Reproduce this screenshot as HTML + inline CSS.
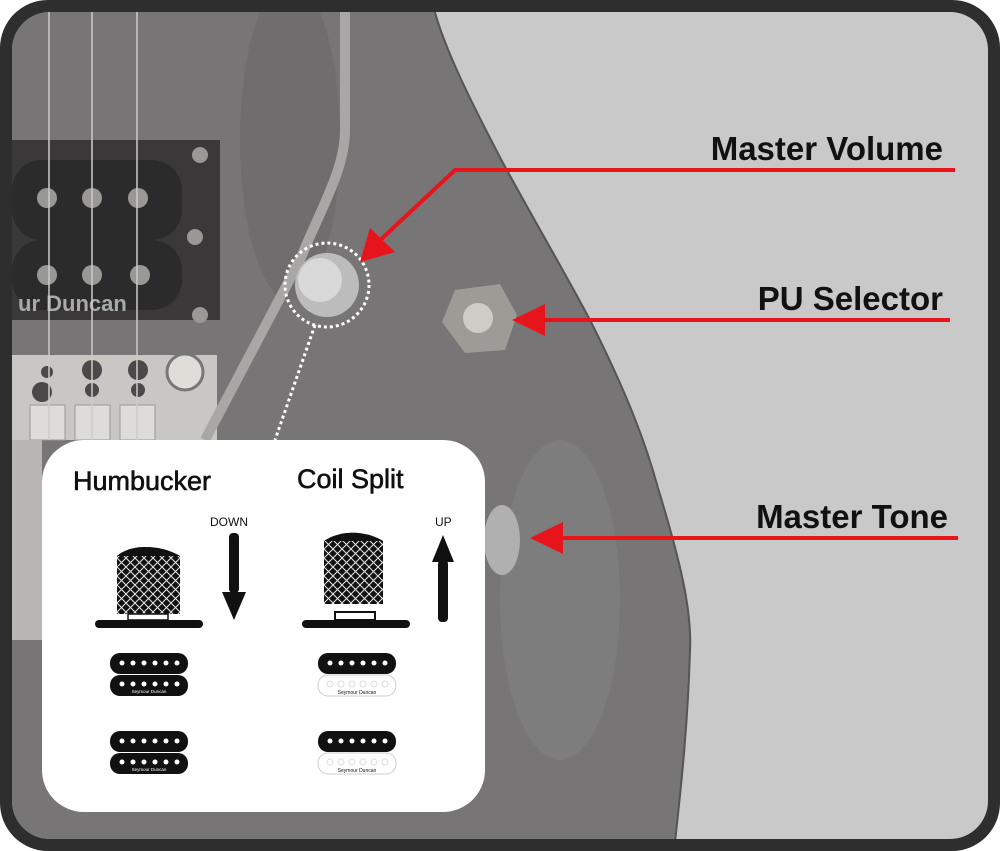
<!DOCTYPE html>
<html><head><meta charset="utf-8"><style>
html,body{margin:0;padding:0;background:#fff;}
svg{display:block;}
text{font-family:"Liberation Sans",sans-serif;}
</style></head><body>
<svg width="1000" height="851" viewBox="0 0 1000 851" xmlns="http://www.w3.org/2000/svg">
<defs>
<clipPath id="c"><rect x="12" y="12" width="976" height="827" rx="38"/></clipPath>
<pattern id="hatch" width="9" height="9" patternUnits="userSpaceOnUse">
<rect width="9" height="9" fill="#111"/>
<path d="M0 0L9 9M9 0L0 9" stroke="#e8e8e8" stroke-width="1"/>
</pattern>
</defs>
<rect x="0" y="0" width="1000" height="851" rx="48" fill="#2e2e2e"/>
<g clip-path="url(#c)">
<rect x="0" y="0" width="1000" height="851" fill="#c9c9c9"/>
<path d="M0 0 L432 0 C440 40 470 100 503 163 C545 240 575 290 593 326 C625 390 645 440 658 488 C680 560 692 610 690 650 C688 720 682 780 674 851 L0 851 Z" fill="#777575"/>
<ellipse cx="290" cy="140" rx="50" ry="160" fill="#6a6868" opacity="0.6"/>
<ellipse cx="560" cy="600" rx="60" ry="160" fill="#848282" opacity="0.6"/>
<path d="M432 0 C440 40 470 100 503 163 C545 240 575 290 593 326 C625 390 645 440 658 488 C680 560 692 610 690 650 C688 720 682 780 674 851" fill="none" stroke="#555" stroke-width="2"/>
<!-- pickup -->
<rect x="12" y="140" width="208" height="180" fill="#3a3838"/>
<rect x="12" y="160" width="170" height="80" rx="30" fill="#2c2b2b"/>
<rect x="12" y="240" width="170" height="70" rx="30" fill="#2c2b2b"/>
<g fill="#9a9894"><circle cx="47" cy="198" r="10"/><circle cx="92" cy="198" r="10"/><circle cx="138" cy="198" r="10"/><circle cx="47" cy="275" r="10"/><circle cx="92" cy="275" r="10"/><circle cx="140" cy="275" r="10"/><circle cx="200" cy="155" r="8"/><circle cx="195" cy="237" r="8"/><circle cx="200" cy="315" r="8"/></g>
<text x="18" y="311" font-family="Liberation Serif" font-weight="bold" font-size="22" fill="#aaa">ur Duncan</text>
<!-- bridge -->
<rect x="12" y="355" width="205" height="85" fill="#c9c7c3"/>
<g fill="#4a4848"><circle cx="47" cy="372" r="6"/><circle cx="92" cy="370" r="10"/><circle cx="138" cy="370" r="10"/><circle cx="42" cy="392" r="10"/><circle cx="92" cy="390" r="7"/><circle cx="138" cy="390" r="7"/></g>
<g fill="#dedcd8" stroke="#999"><rect x="30" y="405" width="35" height="35"/><rect x="75" y="405" width="35" height="35"/><rect x="120" y="405" width="35" height="35"/></g>
<circle cx="185" cy="372" r="18" fill="#e0ddd8" stroke="#777" stroke-width="3"/>
<rect x="12" y="440" width="30" height="200" fill="#b8b6b2"/>
<!-- strings -->
<g stroke="#ccc" stroke-width="1.5"><line x1="49" y1="12" x2="49" y2="440"/><line x1="92" y1="12" x2="92" y2="440"/><line x1="137" y1="12" x2="137" y2="440"/></g>
<!-- tremolo arm -->
<path d="M345 12 L345 130 C345 170 320 210 300 260 L205 440" fill="none" stroke="#a9a7a5" stroke-width="10"/>
<!-- knobs -->
<circle cx="327" cy="285" r="32" fill="#bcbcbc"/><circle cx="320" cy="280" r="22" fill="#d8d8d8"/>
<circle cx="327" cy="285" r="42" fill="none" stroke="#fff" stroke-width="3" stroke-dasharray="3 3"/>
<path d="M315 325 L275 440" stroke="#fff" stroke-width="3" stroke-dasharray="3 3"/>
<polygon points="455,290 500,284 517,315 505,350 465,353 442,322" fill="#9e9b96"/>
<circle cx="478" cy="318" r="15" fill="#cfccc6"/>
<ellipse cx="502" cy="540" rx="18" ry="35" fill="#b0b0b0"/>
<!-- callouts -->
<g fill="none" stroke="#e8141c" stroke-width="4">
<polyline points="955,170 455,170 375,245"/>
<line x1="950" y1="320" x2="535" y2="320"/>
<line x1="958" y1="538" x2="555" y2="538"/>
</g>
<g fill="#e8141c">
<polygon points="360,262 370,228 395,252"/>
<polygon points="512,320 545,304 545,336"/>
<polygon points="530,538 563,522 563,554"/>
</g>
<g font-weight="bold" font-size="33" fill="#111" text-anchor="end">
<text x="943" y="160">Master Volume</text>
<text x="943" y="310">PU Selector</text>
<text x="948" y="528">Master Tone</text>
</g>
<!-- panel -->
<rect x="42" y="440" width="443" height="372" rx="42" fill="#fff"/>
<text x="73" y="490" font-size="27" fill="#111" stroke="#111" stroke-width="0.6">Humbucker</text>
<text x="297" y="488" font-size="27" fill="#111" stroke="#111" stroke-width="0.6">Coil Split</text>
<text x="210" y="526" font-size="12" fill="#111">DOWN</text>
<text x="435" y="526" font-size="12" fill="#111">UP</text>
<rect x="229" y="533" width="10" height="60" rx="4" fill="#111"/>
<polygon points="222,592 246,592 234,620" fill="#111"/>
<rect x="438" y="560" width="10" height="62" rx="4" fill="#111"/>
<polygon points="432,562 454,562 443,535" fill="#111"/>
<!-- knob left -->
<path d="M117 556 C130 544 160 544 180 556 L180 614 L117 614 Z" fill="url(#hatch)"/>
<path d="M117 556 C130 544 160 544 180 556 Z" fill="#111"/>
<rect x="95" y="620" width="108" height="8" rx="4" fill="#111"/>
<rect x="128" y="614" width="40" height="6" fill="none" stroke="#111" stroke-width="1.5"/>
<!-- knob right -->
<path d="M324 541 C340 530 365 530 383 541 L383 604 L324 604 Z" fill="url(#hatch)"/>
<path d="M324 541 C340 530 365 530 383 541 Z" fill="#111"/>
<rect x="302" y="620" width="108" height="8" rx="4" fill="#111"/>
<rect x="335" y="612" width="40" height="8" fill="none" stroke="#111" stroke-width="2"/>
<!-- humbuckers -->
<g id="hb">
<rect x="110" y="653" width="78" height="21" rx="10" fill="#111"/>
<rect x="110" y="675" width="78" height="21" rx="10" fill="#111"/>
<g fill="#fff"><circle cx="122" cy="663" r="2.5"/><circle cx="133" cy="663" r="2.5"/><circle cx="144" cy="663" r="2.5"/><circle cx="155" cy="663" r="2.5"/><circle cx="166" cy="663" r="2.5"/><circle cx="177" cy="663" r="2.5"/>
<circle cx="122" cy="684" r="2.5"/><circle cx="133" cy="684" r="2.5"/><circle cx="144" cy="684" r="2.5"/><circle cx="155" cy="684" r="2.5"/><circle cx="166" cy="684" r="2.5"/><circle cx="177" cy="684" r="2.5"/></g>
<text x="149" y="693" font-size="4.5" text-anchor="middle" fill="#fff">Seymour Duncan</text>
</g>
<use href="#hb" y="78"/>
<g id="cs">
<rect x="318" y="653" width="78" height="21" rx="10" fill="#111"/>
<rect x="318" y="675" width="78" height="21" rx="10" fill="#fff" stroke="#ccc"/>
<g fill="#fff"><circle cx="330" cy="663" r="2.5"/><circle cx="341" cy="663" r="2.5"/><circle cx="352" cy="663" r="2.5"/><circle cx="363" cy="663" r="2.5"/><circle cx="374" cy="663" r="2.5"/><circle cx="385" cy="663" r="2.5"/></g>
<g fill="none" stroke="#ddd"><circle cx="330" cy="684" r="3"/><circle cx="341" cy="684" r="3"/><circle cx="352" cy="684" r="3"/><circle cx="363" cy="684" r="3"/><circle cx="374" cy="684" r="3"/><circle cx="385" cy="684" r="3"/></g>
<text x="357" y="694" font-size="5" text-anchor="middle" fill="#111">Seymour Duncan</text>
</g>
<use href="#cs" y="78"/>
</g>
</svg>
</body></html>
